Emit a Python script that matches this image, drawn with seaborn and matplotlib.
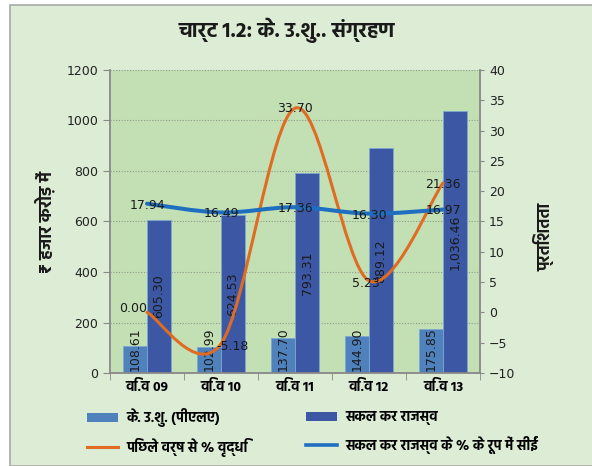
import matplotlib
matplotlib.use("Agg")
import matplotlib.pyplot as plt
import pandas as pd
import seaborn as sns
from matplotlib import font_manager
from matplotlib.ft2font import FT2Font
from matplotlib.path import Path
from matplotlib.patches import PathPatch, Patch, Rectangle
from matplotlib.lines import Line2D

# chart data
years = ["वि.व 09", "वि.व 10", "वि.व 11", "वि.व 12", "वि.व 13"]
cec_pla = [108.61, 102.99, 137.70, 144.90, 175.85]
gross_tax = [605.30, 624.53, 793.31, 889.12, 1036.46]
growth_pct = [0.00, -5.18, 33.70, 5.23, 21.36]
share_pct = [17.94, 16.49, 17.36, 16.30, 16.97]

series_names = ["के. उ.शु. (पीएलए)", "सकल कर राजस्व",
                "पिछले वर्ष से % वृद्धि", "सकल कर राजस्व के % के रूप में सीईं"]

c_light = "#4f81bd"
c_dark = "#3c58a5"
c_orange = "#e06c24"
c_blue = "#1f6fc0"
fig_bg = "#dcecd5"
plot_bg = "#c2e0b4"


# pick a devanagari sans family that has a real bold face
def has_deva(path):
    try:
        return 0x0915 in FT2Font(path).get_charmap()
    except Exception:
        return False


bold_deva = {f.name for f in font_manager.fontManager.ttflist
             if f.weight in (700, "bold") and has_deva(f.fname)}
prefer = ["Hind", "Mukta", "Noto Sans Devanagari", "Poppins", "Khula", "Yantramanav",
          "Martel Sans", "Palanquin", "Sarala", "Amiko"]
dev = [f for f in prefer if f in bold_deva][:1] or sorted(bold_deva)[:1]
hindi = dev + ["DejaVu Sans"]
plt.rcParams["font.family"] = ["DejaVu Sans"] + dev
plt.rcParams["font.size"] = 9

df = pd.DataFrame({
    "year": years * 2,
    "value": cec_pla + gross_tax,
    "series": [series_names[0]] * 5 + [series_names[1]] * 5,
})

fig = plt.figure(figsize=(5.92, 4.66), dpi=100, facecolor="white")
fig.patches.append(Rectangle((10 / 592, 0), 1, 1 - 5 / 466, transform=fig.transFigure,
                             facecolor=fig_bg, edgecolor="#a8a8a8", lw=1.2, zorder=-5))
ax = fig.add_axes([110 / 592, 1 - 373 / 466, 370 / 592, 303 / 466])
ax.set_facecolor(plot_bg)

sns.barplot(data=df, x="year", y="value", hue="series", order=years,
            hue_order=series_names[:2], palette=[c_light, c_dark],
            width=0.65, gap=0, dodge=True, legend=False, ax=ax,
            edgecolor="#7fa6d0", linewidth=0.6, saturation=1)

ax.set_ylim(0, 1200)
ax.set_xlim(-0.5, 4.5)
ax.set_yticks(range(0, 1201, 200))
ax.set_xlabel("")
ax.set_ylabel("")
ax.yaxis.grid(True, color="#8f9a8a", linestyle=(0, (1, 1.5)), lw=0.8)
ax.set_axisbelow(True)
ax.set_xticks(range(5))
ax.set_xticklabels(years, family=hindi, fontweight="bold", fontsize=10)
ax.set_xticks([-0.5, 0.5, 1.5, 2.5, 3.5, 4.5], minor=True)
ax.tick_params(axis="x", which="major", length=0, pad=5)
ax.tick_params(axis="x", which="minor", length=5, color="#888888")
ax.tick_params(axis="y", length=5, color="#888888", labelcolor="#222222")
for s in ["top", "right"]:
    ax.spines[s].set_visible(False)
for s in ["left", "bottom"]:
    ax.spines[s].set_color("#888888")
    ax.spines[s].set_linewidth(1.3)

# bar labels
for i, v in enumerate(cec_pla):
    ax.text(i - 0.1625, 6, f"{v:.2f}", rotation=90, ha="center", va="bottom",
            color="#1a1a1a", fontsize=9)
for i, v in enumerate(gross_tax):
    ax.text(i + 0.1625, v / 2, f"{v:,.2f}", rotation=90, ha="center", va="center",
            color="#1a1a1a", fontsize=9)

ax2 = ax.twinx()
ax2.set_ylim(-10, 40)
ax2.set_yticks(range(-10, 41, 5))
ax2.tick_params(axis="y", length=3, color="#888888", labelcolor="#222222")
for s in ["top", "left", "bottom"]:
    ax2.spines[s].set_visible(False)
ax2.spines["right"].set_color("#888888")
ax2.spines["right"].set_linewidth(1.3)


def smooth_path(ys):
    # Catmull-Rom style bezier through the data points (Excel smoothed line)
    pts = list(zip(range(len(ys)), ys))
    verts = [pts[0]]
    codes = [Path.MOVETO]
    for i in range(len(pts) - 1):
        p0 = pts[max(i - 1, 0)]
        p1 = pts[i]
        p2 = pts[i + 1]
        p3 = pts[min(i + 2, len(pts) - 1)]
        c1 = (p1[0] + (p2[0] - p0[0]) / 6, p1[1] + (p2[1] - p0[1]) / 6)
        c2 = (p2[0] - (p3[0] - p1[0]) / 6, p2[1] - (p3[1] - p1[1]) / 6)
        verts += [c1, c2, p2]
        codes += [Path.CURVE4] * 3
    return Path(verts, codes)


ax2.add_patch(PathPatch(smooth_path(growth_pct), facecolor="none",
                        edgecolor=c_orange, lw=2.2, capstyle="round", zorder=3))
ax2.add_patch(PathPatch(smooth_path(share_pct), facecolor="none",
                        edgecolor=c_blue, lw=2.9, capstyle="round", zorder=3))

growth_offsets = [(-10, 3), (8, -2), (0, 0), (-2, -2), (0, -1)]
for i, v in enumerate(growth_pct):
    ax2.annotate(f"{v:.2f}", (i, v), xytext=growth_offsets[i], textcoords="offset points",
                 ha="center", va="center", color="#1a1a1a", fontsize=9, zorder=4)
for i, v in enumerate(share_pct):
    ax2.annotate(f"{v:.2f}", (i, v), xytext=(0, -1), textcoords="offset points",
                 ha="center", va="center", color="#1a1a1a", fontsize=9, zorder=4)

fig.text(0.485, 1 - 30 / 466, "चार्ट 1.2: के. उ.शु.. संग्रहण", ha="center", va="center",
         family=hindi, fontsize=15, fontweight="bold", color="#1a1a1a")
fig.text(45 / 592, 1 - 222 / 466, "₹ हजार करोड़ में", rotation=90, ha="center",
         va="center", family=hindi, fontsize=12.5, fontweight="bold", color="#1a1a1a")
fig.text(544 / 592, 1 - 237 / 466, "प्रतिशतता", rotation=90, ha="center",
         va="center", family=hindi, fontsize=12, fontweight="bold", color="#1a1a1a")

h1 = [Patch(facecolor=c_light), Line2D([], [], color=c_orange, lw=2.2)]
h2 = [Patch(facecolor=c_dark), Line2D([], [], color=c_blue, lw=2.6)]
for handles, labels, x0 in [(h1, [series_names[0], series_names[2]], 87 / 592),
                            (h2, [series_names[1], series_names[3]], 306 / 592)]:
    fig.legend(handles, labels, loc="center left", bbox_to_anchor=(x0, 1 - 432.5 / 466),
               frameon=False, borderpad=0, borderaxespad=0, handlelength=2.2,
               handleheight=0.7, handletextpad=0.6, labelspacing=0.75,
               prop={"family": hindi, "size": 10, "weight": "bold"})

fig.savefig("out.png", dpi=100, facecolor="white")
